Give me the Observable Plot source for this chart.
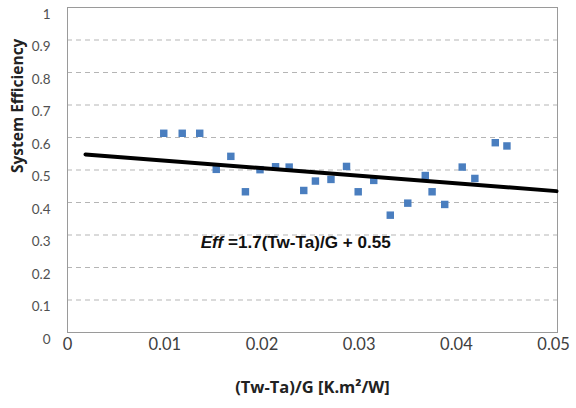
<!DOCTYPE html>
<html>
<head>
<meta charset="utf-8">
<script src="https://cdn.jsdelivr.net/npm/d3@7"></script>
<script src="https://cdn.jsdelivr.net/npm/@observablehq/plot@0.6"></script>
<style>
  html, body { margin: 0; padding: 0; background: #fff; }
  #chart svg { display: block; }
</style>
</head>
<body>
<div id="chart"></div>
<script>
// Data
const xValues = [0.0099, 0.0118, 0.0136, 0.0153, 0.0168, 0.0183, 0.0198, 0.0214, 0.0228, 0.0243, 0.0255, 0.0271,
                 0.0287, 0.0299, 0.0315, 0.0332, 0.0350, 0.0368, 0.0375, 0.0388, 0.0406, 0.0419, 0.0440, 0.0452];
const yValues = [0.613, 0.613, 0.613, 0.502, 0.542, 0.433, 0.501, 0.510, 0.509, 0.437, 0.466, 0.471,
                 0.511, 0.433, 0.468, 0.361, 0.398, 0.483, 0.433, 0.394, 0.509, 0.474, 0.584, 0.574];
const trendX = [0.00185, 0.0503];
const trendY = [0.548, 0.435];
const xTicks = [0, 0.01, 0.02, 0.03, 0.04, 0.05];
const yTicks = [0, 0.1, 0.2, 0.3, 0.4, 0.5, 0.6, 0.7, 0.8, 0.9, 1];
const gridY = [0.1, 0.2, 0.3, 0.4, 0.5, 0.6, 0.7, 0.8, 0.9];
const xTitle = "(Tw-Ta)/G [K.m²/W]";
const yTitle = "System Efficiency";
const eqLabel = "Eff =1.7(Tw-Ta)/G + 0.55";
const eqAnchor = {x: 0.0137, y: 0.278};

const points = xValues.map((x, i) => ({x, y: yValues[i]}));
const trend = trendX.map((x, i) => ({x, y: trendY[i]}));

const plot = Plot.plot({
  width: 576,
  height: 408,
  marginLeft: 67,
  marginRight: 19,
  marginTop: 7,
  marginBottom: 76,
  style: {fontFamily: "Lato, sans-serif", background: "#fff"},
  x: {domain: [0, 0.0504], ticks: xTicks},
  y: {domain: [0, 1], ticks: yTicks},
  marks: [
    Plot.ruleY(gridY, {stroke: "#b5b5b5", strokeDasharray: "5,4", strokeWidth: 1}),
    Plot.frame({stroke: "#9a9a9a", strokeWidth: 1}),
    Plot.axisX({ticks: xTicks, tickSize: 0, tickPadding: 6, fontSize: 16.5, fill: "#404040", label: null, tickFormat: d => String(d)}),
    Plot.axisY({ticks: yTicks, tickSize: 0, tickPadding: 17, dy: 7, fontSize: 13.5, fill: "#505050", label: null, tickFormat: d => String(d)}),
    Plot.dot(points, {x: "x", y: "y", symbol: "square", r: 4.2, fill: "#4a7ebf", stroke: "none"}),
    Plot.line(trend, {x: "x", y: "y", stroke: "#000", strokeWidth: 4}),
    Plot.text([eqLabel], {x: () => eqAnchor.x, y: () => eqAnchor.y, text: d => d, textAnchor: "start",
      fontSize: 17, fontWeight: "bold", fill: "#111", fontFamily: "Liberation Sans, Arial, sans-serif", className: "eqlabel"}),
    Plot.text([xTitle], {frameAnchor: "bottom", dy: 60, text: d => d, fontSize: 16.5, fontWeight: "bold", fill: "#222", fontFamily: "Open Sans, sans-serif"}),
    Plot.text([yTitle], {frameAnchor: "left", dx: -49, dy: 3, rotate: -90, text: d => d, fontSize: 15.5, fontWeight: "bold", fill: "#222", fontFamily: "Open Sans, sans-serif"})
  ]
});

document.getElementById("chart").appendChild(plot);

// Italicise "Eff" in the equation label, keeping it real text
const eq = plot.querySelector(".eqlabel text");
if (eq) {
  const rest = eq.textContent.slice(3);
  eq.textContent = "";
  const ns = "http://www.w3.org/2000/svg";
  const t1 = document.createElementNS(ns, "tspan");
  t1.setAttribute("font-style", "italic");
  t1.textContent = "Eff";
  const t2 = document.createElementNS(ns, "tspan");
  t2.textContent = rest;
  eq.appendChild(t1);
  eq.appendChild(t2);
  eq.setAttribute("textLength", "190");
  eq.setAttribute("lengthAdjust", "spacingAndGlyphs");
}
</script>
</body>
</html>
